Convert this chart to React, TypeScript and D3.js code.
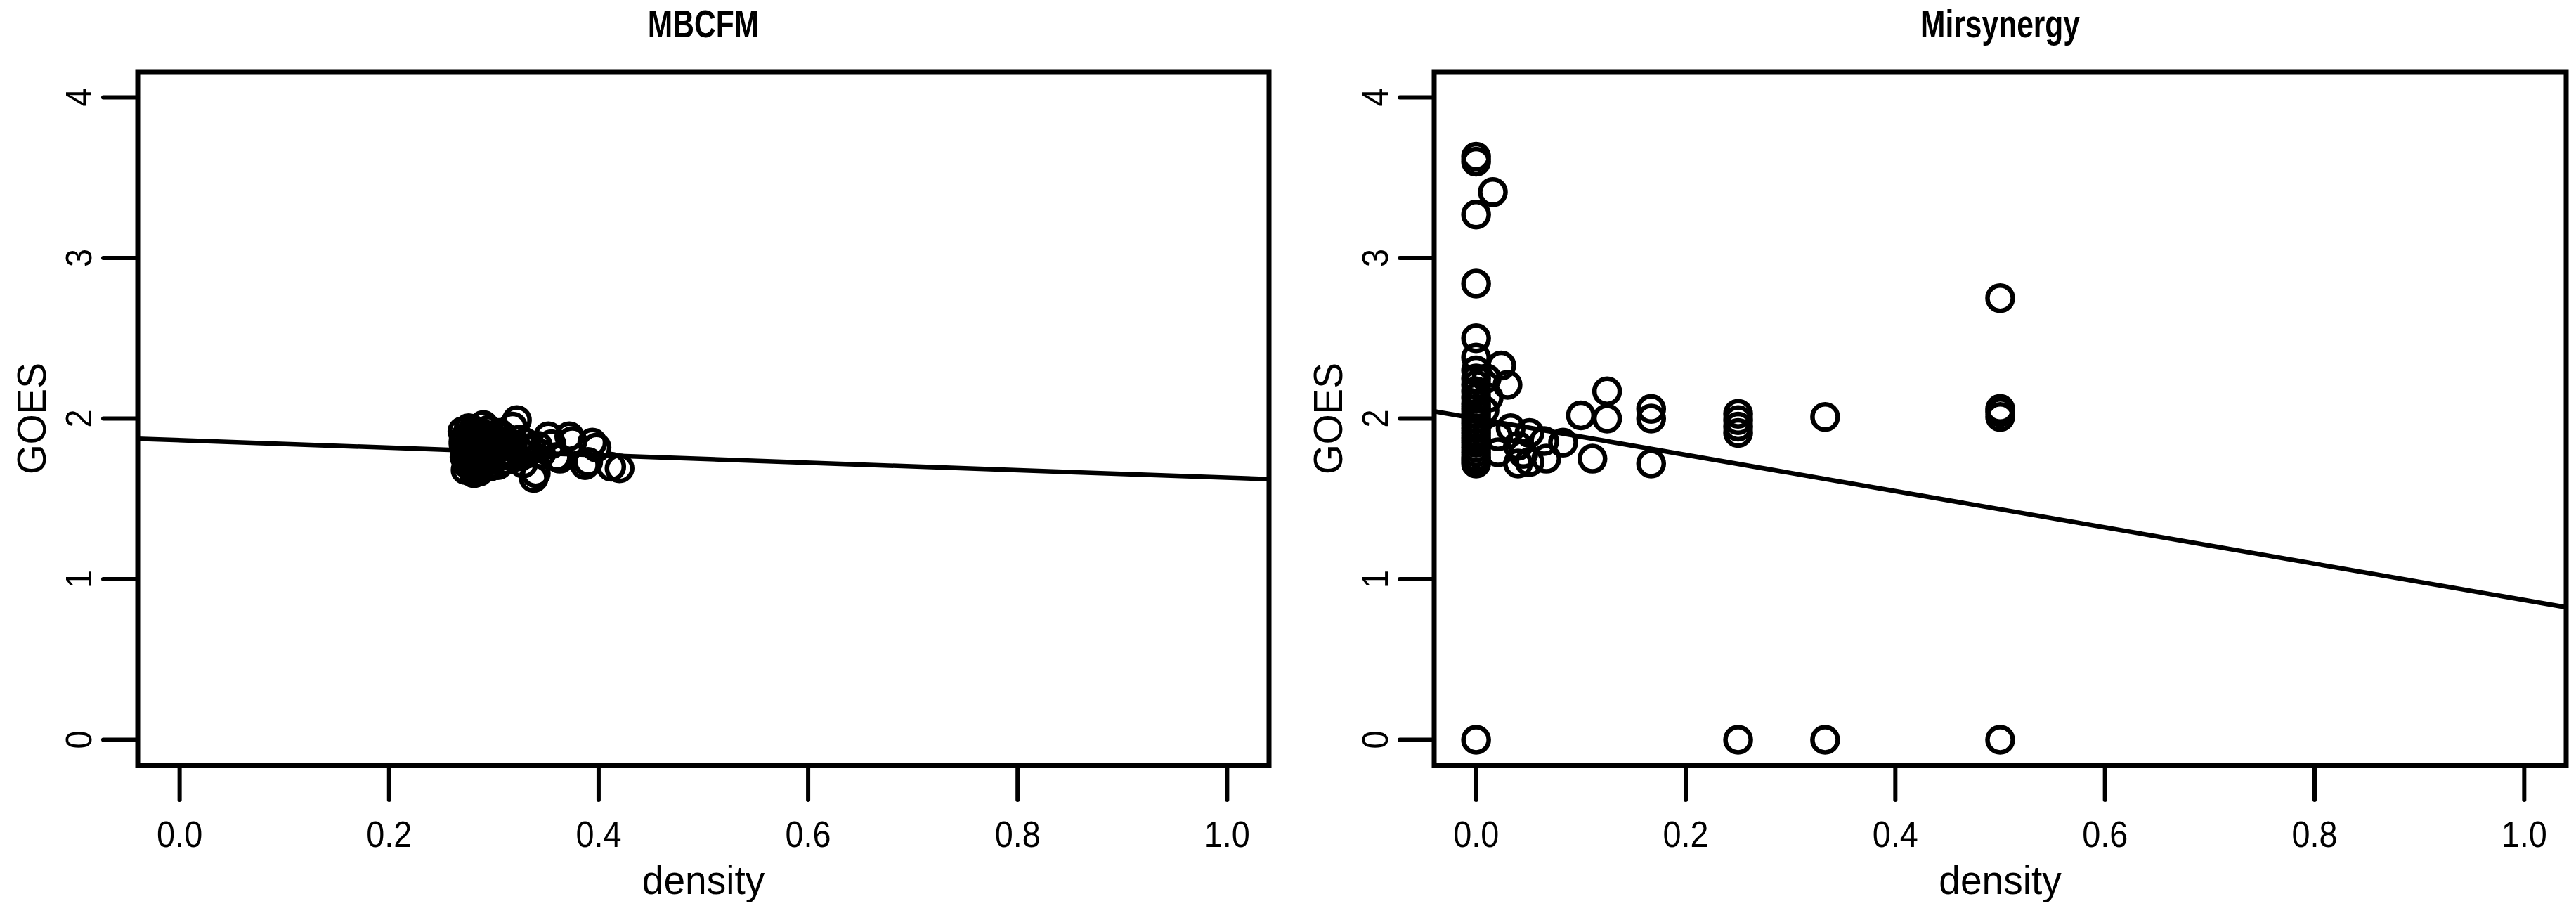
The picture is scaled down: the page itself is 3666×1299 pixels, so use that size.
import React from 'react';
import * as d3 from 'd3';

// MBCFM panel: module density vs GOES
const mbcfmDensity = [
  0.270, 0.272, 0.271, 0.273, 0.272, 0.274, 0.273, 0.276, 0.278, 0.277,
  0.279, 0.278, 0.280, 0.279, 0.281, 0.283, 0.285, 0.284, 0.286, 0.285,
  0.287, 0.286, 0.290, 0.291, 0.292, 0.293, 0.294, 0.292, 0.296, 0.298,
  0.300, 0.301, 0.303, 0.305, 0.307, 0.310, 0.312, 0.315, 0.318, 0.322,
  0.320, 0.325, 0.328, 0.331, 0.336, 0.338, 0.340, 0.345, 0.352, 0.355,
  0.360, 0.363, 0.372, 0.375, 0.387, 0.390, 0.394, 0.398, 0.412, 0.420,
  0.271, 0.275, 0.280, 0.282, 0.288, 0.289, 0.295, 0.297, 0.302, 0.304,
  0.306, 0.309, 0.311, 0.314, 0.317, 0.326, 0.330, 0.342,
];
const mbcfmGoes = [
  1.92, 1.88, 1.84, 1.80, 1.76, 1.72, 1.68, 1.94, 1.90, 1.86,
  1.82, 1.78, 1.74, 1.70, 1.66, 1.92, 1.87, 1.83, 1.79, 1.75,
  1.71, 1.67, 1.96, 1.90, 1.85, 1.81, 1.77, 1.73, 1.70, 1.88,
  1.84, 1.80, 1.76, 1.91, 1.73, 1.86, 1.79, 1.83, 1.95, 1.99,
  1.76, 1.87, 1.72, 1.81, 1.82, 1.63, 1.66, 1.78, 1.89, 1.84,
  1.76, 1.75, 1.89, 1.86, 1.71, 1.73, 1.85, 1.82, 1.70, 1.69,
  1.86, 1.82, 1.93, 1.69, 1.89, 1.80, 1.93, 1.75, 1.87, 1.71,
  1.82, 1.89, 1.74, 1.77, 1.84, 1.79, 1.85, 1.83,
];
const mbcfmFit = [1.865, -0.233]; // intercept, slope

// Mirsynergy panel
const mirDensity = [
  0, 0, 0, 0, 0, 0, 0, 0, 0, 0, 0, 0, 0, 0, 0, 0, 0, 0, 0, 0, 0, 0, 0, 0, 0, 0,
  0.016, 0.024, 0.030, 0.010, 0.012, 0.008, 0.021, 0.021, 0.033, 0.040,
  0.040, 0.045, 0.051, 0.051, 0.065, 0.067, 0.083, 0.100, 0.111, 0.125,
  0.125, 0.167, 0.167, 0.167, 0.250, 0.250, 0.250, 0.250, 0.250, 0.333,
  0.333, 0.500, 0.500, 0.500, 0.500, 0.500,
];
const mirGoes = [
  3.63, 3.60, 3.27, 2.84, 2.50, 2.38, 2.30, 2.25, 2.21, 2.17, 2.13, 2.09, 2.06,
  2.03, 2.00, 1.97, 1.94, 1.91, 1.88, 1.85, 1.82, 1.79, 1.76, 1.74, 1.72, 0,
  3.41, 2.33, 2.21, 2.25, 2.13, 2.05, 1.89, 1.79, 1.94, 1.83,
  1.72, 1.78, 1.91, 1.73, 1.86, 1.75, 1.85, 2.02, 1.75, 2.17,
  2.00, 2.06, 2.00, 1.72, 2.03, 1.99, 1.95, 1.91, 0, 2.01,
  0, 2.75, 2.06, 2.04, 2.01, 0,
];
const mirFit = [2.0, -1.13];

const panelTitles = ['MBCFM', 'Mirsynergy'];
const xTicks = [0, 0.2, 0.4, 0.6, 0.8, 1.0];
const yTicks = [0, 1, 2, 3, 4];
const xLabel = 'density';
const yLabel = 'GOES';

const W = 3666;
const H = 1299;
const TOP = 102;
const BOTTOM = 1089;
const FONT = '"Liberation Sans", Arial, sans-serif';

type PanelProps = {
  left: number;
  right: number;
  title: string;
  xs: number[];
  ys: number[];
  fit: number[];
};

function Panel({ left, right, title, xs, ys, fit }: PanelProps) {
  const x = d3.scaleLinear().domain([-0.04, 1.04]).range([left, right]);
  const y = d3.scaleLinear().domain([-0.16, 4.16]).range([BOTTOM, TOP]);
  const fmt = d3.format('.1f');
  const line = d3.line<number>().x((d) => x(d)).y((d) => y(fit[0] + fit[1] * d));
  const cx = (left + right) / 2;

  return (
    <g>
      <text transform={`translate(${cx},53) scale(0.76,1)`} textAnchor="middle" fontWeight="bold" fontSize={56} fontFamily={FONT}>
        {title}
      </text>
      {xs.map((d, i) => (
        <circle key={i} cx={x(d)} cy={y(ys[i])} r={18} fill="none" stroke="#000" strokeWidth={6.5} />
      ))}
      <path d={line([-0.04, 1.04]) || ''} fill="none" stroke="#000" strokeWidth={6.5} />
      <rect x={left} y={TOP} width={right - left} height={BOTTOM - TOP} fill="none" stroke="#000" strokeWidth={7} />
      {xTicks.map((t) => (
        <g key={t}>
          <line x1={x(t)} x2={x(t)} y1={BOTTOM} y2={BOTTOM + 49} stroke="#000" strokeWidth={6} strokeLinecap="round" />
          <text transform={`translate(${x(t)},1205) scale(0.9,1)`} textAnchor="middle" fontSize={52} fontFamily={FONT}>
            {fmt(t)}
          </text>
        </g>
      ))}
      {yTicks.map((t) => (
        <g key={t}>
          <line x1={left} x2={left - 49} y1={y(t)} y2={y(t)} stroke="#000" strokeWidth={6} strokeLinecap="round" />
          <text transform={`translate(${left - 66},${y(t)}) rotate(-90) scale(0.9,1)`} textAnchor="middle" fontSize={52} fontFamily={FONT}>
            {t}
          </text>
        </g>
      ))}
      <text transform={`translate(${cx},1272) scale(0.95,1)`} textAnchor="middle" fontSize={58} fontFamily={FONT}>
        {xLabel}
      </text>
      <text transform={`translate(${left - 131},${(TOP + BOTTOM) / 2}) rotate(-90) scale(0.95,1)`} textAnchor="middle" fontSize={58} fontFamily={FONT}>
        {yLabel}
      </text>
    </g>
  );
}

export default function App() {
  return (
    <svg width={W} height={H} style={{ position: 'absolute', left: 0, top: 0, background: '#fff' }}>
      <rect width={W} height={H} fill="#fff" />
      <Panel left={196} right={1806} title={panelTitles[0]} xs={mbcfmDensity} ys={mbcfmGoes} fit={mbcfmFit} />
      <Panel left={2041} right={3652} title={panelTitles[1]} xs={mirDensity} ys={mirGoes} fit={mirFit} />
    </svg>
  );
}
